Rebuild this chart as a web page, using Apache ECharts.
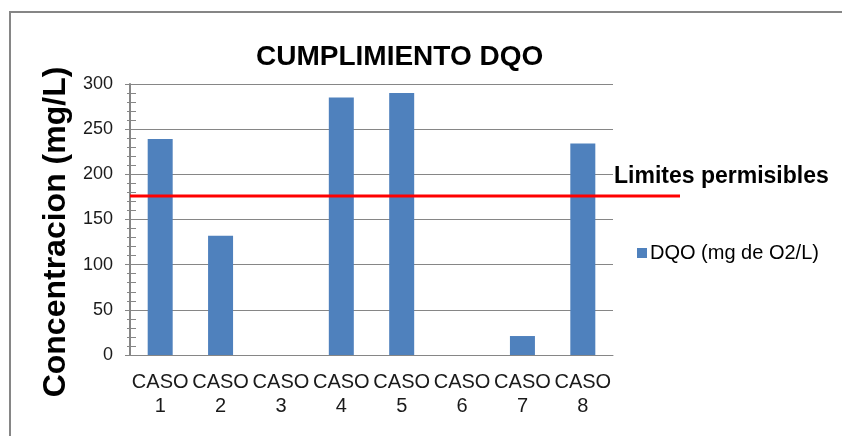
<!DOCTYPE html>
<html>
<head>
<meta charset="utf-8">
<script src="https://cdn.jsdelivr.net/npm/echarts@6/dist/echarts.min.js"></script>
<style>
  html, body { margin: 0; padding: 0; background: #fff; }
  #chart { width: 842px; height: 436px; }
</style>
</head>
<body>
<div id="chart"></div>
<script>
// datos
const casos = ['CASO\n1', 'CASO\n2', 'CASO\n3', 'CASO\n4', 'CASO\n5', 'CASO\n6', 'CASO\n7', 'CASO\n8'];
const dqo = [239, 132, 0, 285, 290, 0, 21, 234];
const limite = 176; // limites permisibles
const limiteX = [0, 1];
const yTicks = { min: 0, max: 300, interval: 50 };

const FONT = 'Liberation Sans, Arial, sans-serif';
const GRIS = '#868686';

const chart = echarts.init(document.getElementById('chart'));

const option = {
  backgroundColor: '#fff',
  animation: false,
  title: [
    {
      text: 'CUMPLIMIENTO DQO',
      left: 251, top: 38,
      textStyle: { fontFamily: FONT, fontSize: 28, fontWeight: 'bold', color: '#000' }
    },
    {
      text: 'Limites permisibles',
      left: 609, top: 160,
      textStyle: { fontFamily: FONT, fontSize: 23, fontWeight: 'bold', color: '#000' }
    }
  ],
  legend: {
    data: ['DQO (mg de O2/L)'],
    left: 632, top: 238,
    icon: 'rect',
    itemWidth: 10, itemHeight: 10, itemGap: 4,
    textStyle: { fontFamily: FONT, fontSize: 20, color: '#000', padding: [0, 0, 0, -2] }
  },
  graphic: [
    {
      type: 'rect',
      shape: { x: 10, y: 12, width: 900, height: 500 },
      style: { fill: 'none', stroke: GRIS, lineWidth: 2 },
      silent: true
    },
    {
      type: 'text',
      x: 56, y: 232,
      rotation: Math.PI / 2,
      style: {
        text: 'Concentracion (mg/L)',
        font: 'bold 32px ' + FONT,
        fill: '#000',
        align: 'center',
        verticalAlign: 'middle'
      }
    }
  ],
  grid: [
    { left: 130, right: 229, top: 84, bottom: 81 },
    { left: 130, right: 162, top: 84, bottom: 81 }
  ],
  xAxis: [
    {
      type: 'category',
      gridIndex: 0,
      data: casos,
      axisLine: { lineStyle: { color: GRIS, width: 1 } },
      axisTick: { show: false },
      axisLabel: {
        interval: 0, margin: 15,
        fontFamily: FONT, fontSize: 20, lineHeight: 24, color: '#1a1a1a'
      }
    },
    {
      type: 'value',
      gridIndex: 1,
      min: 0, max: 1,
      show: false
    }
  ],
  yAxis: [
    {
      type: 'value',
      gridIndex: 0,
      min: yTicks.min, max: yTicks.max, interval: yTicks.interval,
      axisLine: { show: true, lineStyle: { color: GRIS, width: 2 } },
      axisTick: { show: true, length: 5, lineStyle: { color: GRIS } },
      minorTick: { show: true, splitNumber: 5, length: 3, lineStyle: { color: GRIS } },
      splitLine: { show: true, lineStyle: { color: GRIS, width: 1 } },
      axisLabel: { margin: 17, fontFamily: FONT, fontSize: 18, color: '#1a1a1a' }
    },
    {
      type: 'value',
      gridIndex: 0,
      position: 'left',
      min: yTicks.min, max: yTicks.max, interval: yTicks.interval,
      axisLine: { show: false },
      axisTick: { show: true, inside: true, length: 6, lineStyle: { color: GRIS } },
      minorTick: { show: true, splitNumber: 5, length: 6, lineStyle: { color: GRIS } },
      splitLine: { show: false },
      axisLabel: { show: false }
    },
    {
      type: 'value',
      gridIndex: 1,
      min: yTicks.min, max: yTicks.max,
      show: false
    }
  ],
  series: [
    {
      name: 'DQO (mg de O2/L)',
      type: 'bar',
      xAxisIndex: 0, yAxisIndex: 0,
      data: dqo,
      barWidth: 25,
      itemStyle: { color: '#4F81BD' }
    },
    {
      name: 'Limites permisibles',
      type: 'line',
      xAxisIndex: 1, yAxisIndex: 2,
      data: limiteX.map(x => [x, limite]),
      symbol: 'none',
      lineStyle: { color: '#FF0000', width: 3 },
      z: 5
    }
  ]
};

chart.setOption(option);
</script>
</body>
</html>
